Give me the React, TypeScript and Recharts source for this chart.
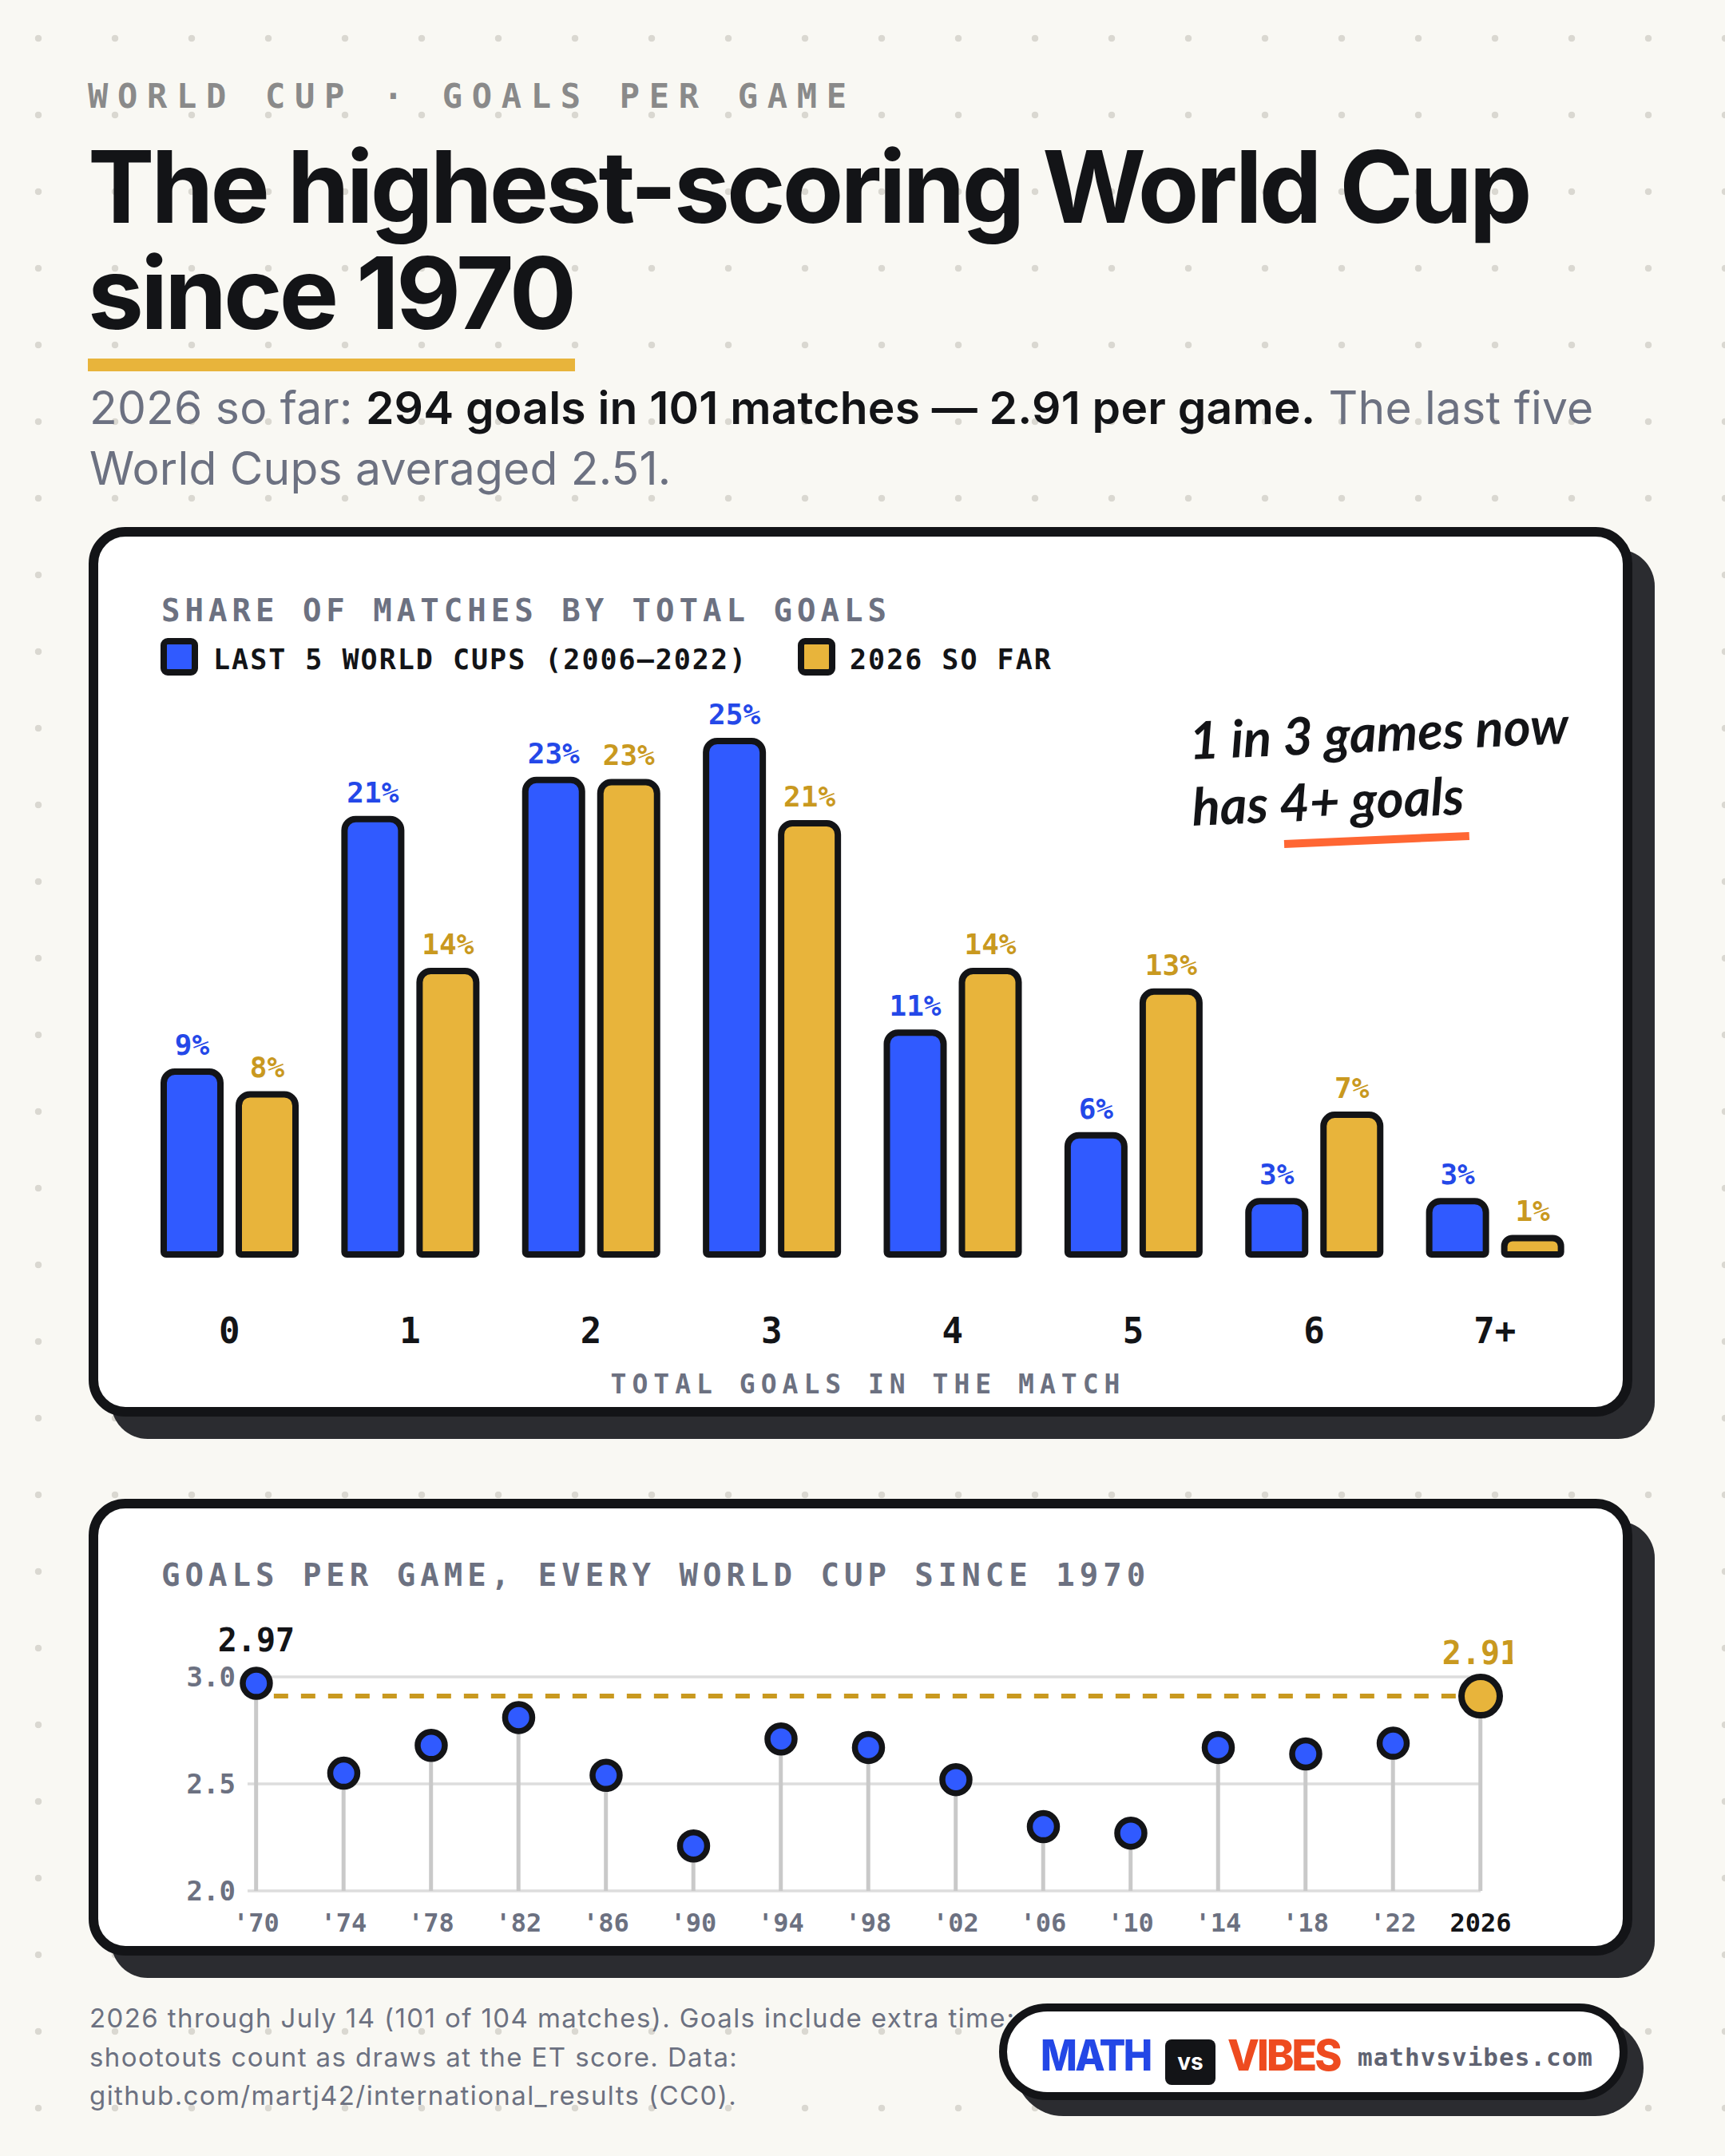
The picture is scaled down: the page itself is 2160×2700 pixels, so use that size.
import React from "react";
import {
  Bar,
  BarChart,
  CartesianGrid,
  ComposedChart,
  LabelList,
  Line,
  ReferenceLine,
  XAxis,
  YAxis,
} from "recharts";

const INK = "#131417";
const BLUE = "#305aff";
const BLUE_TEXT = "#2448e8";
const GOLD = "#e8b43b";
const GOLD_TEXT = "#c9991f";
const SLATE = "#6c7181";
const MONO = "'DejaVu Sans Mono', monospace";
const SANS = "Inter, 'Noto Sans', sans-serif";

// Share of matches (%) by total goals in the match
const goalBuckets = ["0", "1", "2", "3", "4", "5", "6", "7+"];
const last5Share = [8.9, 21.2, 23.1, 25.0, 10.8, 5.8, 2.6, 2.6];
const share2026 = [7.8, 13.8, 23.0, 21.0, 13.8, 12.8, 6.8, 0.8];

// Goals per game, every World Cup since 1970
const tournaments = ["'70", "'74", "'78", "'82", "'86", "'90", "'94", "'98", "'02", "'06", "'10", "'14", "'18", "'22", "2026"];
const goalsPerGame = [2.97, 2.55, 2.68, 2.81, 2.54, 2.21, 2.71, 2.67, 2.52, 2.3, 2.27, 2.67, 2.64, 2.69, 2.91];
const gpgTicks = [2, 2.5, 3];

const shareRows = goalBuckets.map((bucket, i) => ({
  bucket,
  last5: last5Share[i],
  now: share2026[i],
}));

const lastIdx = tournaments.length - 1;
const gpgRows = tournaments.map((label, i) => ({
  i,
  label,
  gpg: goalsPerGame[i],
  past: i < lastIdx ? goalsPerGame[i] : null,
  now: i === lastIdx ? goalsPerGame[i] : null,
}));
const pastPeak = Math.max(...goalsPerGame.slice(0, lastIdx));
const current = goalsPerGame[lastIdx];

const pct = (v: number) => `${Math.round(v)}%`;

function YearTick({ x, y, payload }: any) {
  const isNow = payload.value === lastIdx;
  return (
    <text
      x={x}
      y={y}
      dy="0.71em"
      textAnchor="middle"
      fontFamily={MONO}
      fontWeight={700}
      fontSize={32}
      fill={isNow ? INK : SLATE}
    >
      {tournaments[payload.value]}
    </text>
  );
}

const card: React.CSSProperties = {
  position: "absolute",
  left: 111,
  width: 1933,
  boxSizing: "border-box",
  border: `12px solid ${INK}`,
  borderRadius: 46,
  background: "#ffffff",
  boxShadow: "28px 28px 0 #2b2c30",
};

const cardTitle: React.CSSProperties = {
  position: "absolute",
  left: 202,
  fontFamily: MONO,
  fontWeight: 700,
  fontSize: 39,
  lineHeight: 1,
  letterSpacing: 6,
  color: SLATE,
  whiteSpace: "nowrap",
};

const swatch = (color: string): React.CSSProperties => ({
  position: "absolute",
  top: 799,
  width: 47,
  height: 47,
  boxSizing: "border-box",
  border: `8px solid ${INK}`,
  borderRadius: 9,
  background: color,
});

const legendText: React.CSSProperties = {
  position: "absolute",
  top: 809,
  fontFamily: MONO,
  fontWeight: 700,
  fontSize: 35,
  lineHeight: 1,
  letterSpacing: 2,
  color: INK,
  whiteSpace: "nowrap",
};

const brand: React.CSSProperties = {
  position: "absolute",
  top: 2547,
  fontFamily: SANS,
  fontWeight: 800,
  fontSize: 54,
  lineHeight: 1,
  letterSpacing: -3,
  transformOrigin: "0 50%",
};

export default function App() {
  return (
    <div
      style={{
        position: "relative",
        width: 2160,
        height: 2700,
        overflow: "hidden",
        backgroundColor: "#f9f8f3",
        backgroundImage: "radial-gradient(circle at 48px 48px, #dad8d1 4px, transparent 4.6px)",
        backgroundSize: "96px 96px",
      }}
    >
      <style>{"body{margin:0}"}</style>

      {/* header */}
      <div
        style={{
          position: "absolute",
          left: 110,
          top: 100,
          fontFamily: MONO,
          fontWeight: 700,
          fontSize: 42,
          lineHeight: 1,
          letterSpacing: 11.7,
          color: "#8a8a8a",
          whiteSpace: "nowrap",
        }}
      >
        WORLD CUP · GOALS PER GAME
      </div>
      <div
        style={{
          position: "absolute",
          left: 110,
          top: 168,
          fontFamily: SANS,
          fontWeight: 700,
          fontSize: 125,
          lineHeight: "132.5px",
          letterSpacing: "-0.031em",
          color: INK,
          whiteSpace: "nowrap",
        }}
      >
        The highest-scoring World Cup
        <br />
        since 1970
      </div>
      <div style={{ position: "absolute", left: 110, top: 449, width: 610, height: 16, background: GOLD }} />
      <div
        style={{
          position: "absolute",
          left: 112,
          top: 473,
          fontFamily: SANS,
          fontSize: 57,
          lineHeight: "76px",
          letterSpacing: 0.2,
          color: SLATE,
          whiteSpace: "nowrap",
        }}
      >
        2026 so far: <span style={{ color: INK, fontWeight: 600 }}>294 goals in 101 matches — 2.91 per game.</span> The last five
        <br />
        World Cups averaged 2.51.
      </div>

      {/* card 1: distribution of total goals */}
      <div style={{ ...card, top: 660, height: 1114 }} />
      <div style={{ ...cardTitle, top: 745 }}>SHARE OF MATCHES BY TOTAL GOALS</div>
      <div style={{ ...swatch(BLUE), left: 201 }} />
      <div style={{ ...legendText, left: 267 }}>LAST 5 WORLD CUPS (2006–2022)</div>
      <div style={{ ...swatch(GOLD), left: 999 }} />
      <div style={{ ...legendText, left: 1064 }}>2026 SO FAR</div>

      <div style={{ position: "absolute", left: 150, top: 840 }}>
        <BarChart
          width={1855}
          height={861}
          data={shareRows}
          margin={{ top: 88, right: 20, bottom: 0, left: 24 }}
          barGap={23}
        >
          <YAxis hide domain={[0, 25]} />
          <XAxis
            dataKey="bucket"
            axisLine={false}
            tickLine={false}
            tickSize={0}
            tickMargin={80}
            height={130}
            interval={0}
            tick={{ fill: INK, fontSize: 44, fontFamily: MONO, fontWeight: 700 }}
          />
          <Bar
            dataKey="last5"
            barSize={71}
            fill={BLUE}
            stroke={INK}
            strokeWidth={8}
            strokeLinejoin="round"
            radius={[14, 14, 3, 3]}
            isAnimationActive={false}
          >
            <LabelList
              dataKey="last5"
              position="top"
              offset={21}
              formatter={pct}
              fill={BLUE_TEXT}
              fontFamily={MONO}
              fontWeight={700}
              fontSize={36}
            />
          </Bar>
          <Bar
            dataKey="now"
            barSize={71}
            fill={GOLD}
            stroke={INK}
            strokeWidth={8}
            strokeLinejoin="round"
            radius={[14, 14, 3, 3]}
            isAnimationActive={false}
          >
            <LabelList
              dataKey="now"
              position="top"
              offset={21}
              formatter={pct}
              fill={GOLD_TEXT}
              fontFamily={MONO}
              fontWeight={700}
              fontSize={36}
            />
          </Bar>
        </BarChart>
      </div>

      <div
        style={{
          position: "absolute",
          left: 580,
          width: 1000,
          top: 1717,
          paddingLeft: 7,
          textAlign: "center",
          fontFamily: MONO,
          fontWeight: 700,
          fontSize: 33,
          lineHeight: 1,
          letterSpacing: 7,
          color: SLATE,
        }}
      >
        TOTAL GOALS IN THE MATCH
      </div>

      {/* handwritten note */}
      <div
        style={{
          position: "absolute",
          left: 1490,
          top: 885,
          fontFamily: "Lato, 'Noto Sans', sans-serif",
          fontStyle: "italic",
          fontWeight: 700,
          fontSize: 65,
          lineHeight: "83px",
          color: INK,
          whiteSpace: "nowrap",
          transform: "rotate(-2.4deg)",
          transformOrigin: "0 66px",
        }}
      >
        1 in 3 games now
        <br />
        has 4+ goals
      </div>
      <div
        style={{
          position: "absolute",
          left: 1608,
          top: 1052,
          width: 232,
          height: 10,
          background: "#ff6633",
          transform: "rotate(-2.5deg)",
          transformOrigin: "0 50%",
        }}
      />

      {/* card 2: goals per game since 1970 */}
      <div style={{ ...card, top: 1877, height: 572 }} />
      <div style={{ ...cardTitle, top: 1953 }}>GOALS PER GAME, EVERY WORLD CUP SINCE 1970</div>

      <div style={{ position: "absolute", left: 130, top: 1990 }}>
        <ComposedChart
          width={1764}
          height={438}
          data={gpgRows}
          margin={{ top: 110, right: 40, bottom: 0, left: 20 }}
        >
          <CartesianGrid vertical={false} stroke="#dddddd" strokeWidth={3.5} />
          <XAxis
            type="number"
            dataKey="i"
            domain={[-0.1, lastIdx]}
            ticks={gpgRows.map((r) => r.i)}
            interval={0}
            axisLine={false}
            tickLine={false}
            tickSize={0}
            tickMargin={28}
            height={60}
            tick={<YearTick />}
          />
          <YAxis
            domain={[2, 3]}
            ticks={gpgTicks}
            tickFormatter={(v: number) => v.toFixed(1)}
            width={160}
            axisLine={false}
            tickLine={false}
            tickSize={0}
            tickMargin={15}
            tick={{ fill: SLATE, fontSize: 34, fontFamily: MONO, fontWeight: 700 }}
          />
          <ReferenceLine
            segment={[
              { x: 0.2, y: current },
              { x: 13.76, y: current },
            ]}
            stroke={GOLD_TEXT}
            strokeWidth={6}
            strokeDasharray="18 16"
          />
          <Bar dataKey="gpg" barSize={5} fill="#c9c9c9" isAnimationActive={false} />
          <Line
            dataKey="past"
            stroke="none"
            dot={{ r: 17, fill: BLUE, stroke: INK, strokeWidth: 7.5 }}
            activeDot={false}
            isAnimationActive={false}
          >
            <LabelList
              dataKey="past"
              position="top"
              offset={40}
              formatter={(v: number) => (v === pastPeak ? v.toFixed(2) : "")}
              fill={INK}
              fontFamily={MONO}
              fontWeight={700}
              fontSize={40}
            />
          </Line>
          <Line
            dataKey="now"
            stroke="none"
            dot={{ r: 24, fill: GOLD, stroke: INK, strokeWidth: 8 }}
            activeDot={false}
            isAnimationActive={false}
          >
            <LabelList
              dataKey="now"
              position="top"
              offset={40}
              formatter={(v: number) => v.toFixed(2)}
              fill={GOLD_TEXT}
              fontFamily={MONO}
              fontWeight={700}
              fontSize={40}
            />
          </Line>
        </ComposedChart>
      </div>

      {/* footer */}
      <div
        style={{
          position: "absolute",
          left: 112,
          top: 2503,
          fontFamily: SANS,
          fontSize: 33,
          lineHeight: "48.5px",
          letterSpacing: 1.4,
          color: SLATE,
          whiteSpace: "nowrap",
        }}
      >
        2026 through July 14 (101 of 104 matches). Goals include extra time;
        <br />
        shootouts count as draws at the ET score. Data:
        <br />
        github.com/martj42/international_results (CC0).
      </div>

      <div
        style={{
          position: "absolute",
          left: 1251,
          top: 2509,
          width: 787,
          height: 121,
          boxSizing: "border-box",
          border: `10px solid ${INK}`,
          borderRadius: 61,
          background: "#ffffff",
          boxShadow: "20px 20px 0 #2b2c30",
        }}
      />
      <div style={{ ...brand, left: 1303, color: "#2347e6", transform: "scaleX(0.9)" }}>MATH</div>
      <div
        style={{
          position: "absolute",
          left: 1459,
          top: 2554,
          width: 63,
          height: 57,
          borderRadius: 8,
          background: INK,
          color: "#ffffff",
          fontFamily: SANS,
          fontWeight: 700,
          fontSize: 28,
          lineHeight: "57px",
          textAlign: "center",
        }}
      >
        vs
      </div>
      <div style={{ ...brand, left: 1537, color: "#ee4b1f", transform: "scaleX(0.96)" }}>VIBES</div>
      <div
        style={{
          position: "absolute",
          left: 1700,
          top: 2561,
          fontFamily: MONO,
          fontWeight: 700,
          fontSize: 31,
          lineHeight: 1,
          letterSpacing: 1,
          color: "#5f6372",
        }}
      >
        mathvsvibes.com
      </div>
    </div>
  );
}
